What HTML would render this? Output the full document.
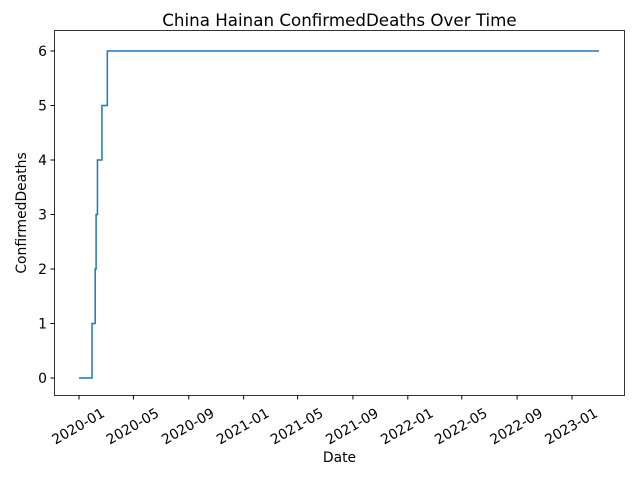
<!DOCTYPE html>
<html><head><meta charset="utf-8"><style>
body{margin:0;background:#fff}
svg{font-family:"DejaVu Sans","Liberation Sans",sans-serif}
</style></head><body>
<svg id="chart" width="640" height="480">
<rect width="640" height="480" fill="#fff"/>
<text x="339.5" y="26" text-anchor="middle" font-size="16.7">China Hainan ConfirmedDeaths Over Time</text>
<text x="339.5" y="462" text-anchor="middle" font-size="13.9">Date</text>
<text transform="translate(26,213) rotate(-90)" text-anchor="middle" font-size="13.9">ConfirmedDeaths</text>
<g id="ticks"></g>
<path id="line" fill="none" stroke="#1f77b4" stroke-width="1.5"/>
<rect x="54.5" y="30.5" width="570" height="365" fill="none" stroke="#000" stroke-width="0.8"/>
</svg>
<script>
const dates=["2020-01-01","2020-01-30","2020-02-06","2020-02-08","2020-02-11","2020-02-21","2020-03-04","2023-03-02"];
const values=[0,1,2,3,4,5,6,6];
const yTicks=[0,1,2,3,4,5,6];
const xTickLabels=["2020-01","2020-05","2020-09","2021-01","2021-05","2021-09","2022-01","2022-05","2022-09","2023-01"];
const t0=Date.UTC(2020,0,1),t1=Date.UTC(2023,0,1);
function xs(d){const p=d.split("-").map(Number);const t=Date.UTC(p[0],p[1]-1,p[2]||1);return 79+(t-t0)/(t1-t0)*(572-79);}
function ys(v){return 378-v*(378-51)/6;}
const NS="http://www.w3.org/2000/svg",g=document.getElementById("ticks");
let d="";
for(let i=0;i<dates.length;i++){const x=xs(dates[i]),y=ys(values[i]);
 if(i===0)d+="M"+x+","+y;else d+="H"+x+"V"+y;}
document.getElementById("line").setAttribute("d",d);
yTicks.forEach(v=>{const y=ys(v);
 const l=document.createElementNS(NS,"line");l.setAttribute("x1",50.5);l.setAttribute("x2",54.5);l.setAttribute("y1",y);l.setAttribute("y2",y);l.setAttribute("stroke","#000");
 
 
 g.appendChild(l);
 const t=document.createElementNS(NS,"text");t.setAttribute("x",47);t.setAttribute("y",y+5);t.setAttribute("text-anchor","end");t.setAttribute("font-size","13.9");t.textContent=v;
 
 
 g.appendChild(t);});
xTickLabels.forEach(s=>{const x=xs(s);
 const l=document.createElementNS(NS,"line");l.setAttribute("x1",x);l.setAttribute("x2",x);l.setAttribute("y1",395.5);l.setAttribute("y2",399.5);l.setAttribute("stroke","#000");
 
 
 g.appendChild(l);
 const t=document.createElementNS(NS,"text");t.setAttribute("font-size","13.9");t.setAttribute("text-anchor","middle");
 t.setAttribute("transform","translate("+(x-1)+",426) rotate(-30)");t.setAttribute("dy","5");t.textContent=s;
 
 
 g.appendChild(t);});
</script>
</body></html>
